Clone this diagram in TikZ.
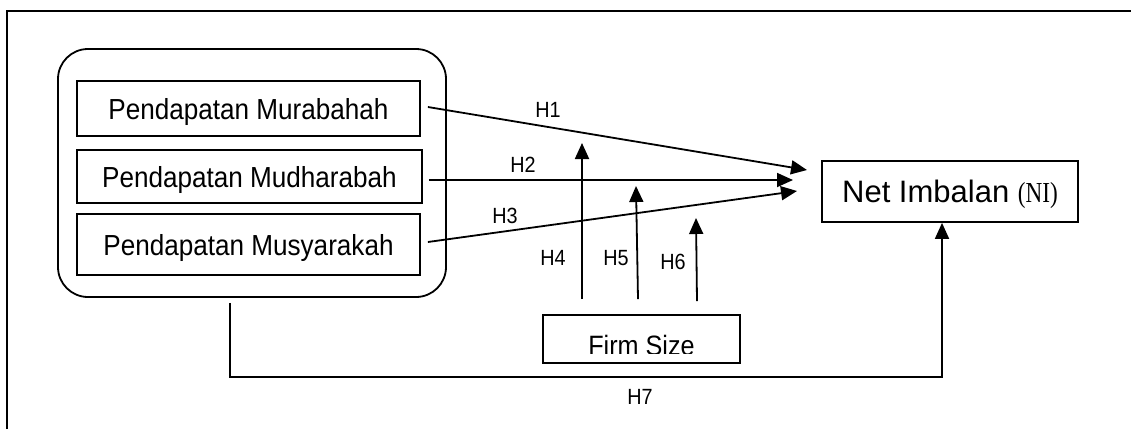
\documentclass[tikz,border=0pt]{standalone}
\usepackage{fontspec}
\setmainfont{Liberation Sans}[FakeStretch=0.9]
\newfontfamily\netfont{Liberation Sans}
\newfontfamily\serifni{Liberation Serif}[FakeStretch=0.8]
\usetikzlibrary{arrows.meta}
\begin{document}
\begin{tikzpicture}[x=1pt,y=-1pt,
  ln/.style={line width=1.8pt},
  arr/.style={ln,-{Triangle[length=16pt,width=14pt]}},
  pbox/.style={draw,line width=1.8pt,inner sep=0pt,text depth=0pt,
    font=\fontsize{29}{34}\selectfont},
  hlab/.style={inner sep=0pt,font=\fontsize{22}{26}\selectfont}]
\useasboundingbox (0,0) rectangle (1131,429);
% outer frame
\draw[ln] (7,429) -- (7,11) -- (1131,11);
% group
\node[draw,line width=1.8pt,rounded corners=30pt,minimum width=388pt,minimum height=248pt,inner sep=0pt] (grp) at (252,173) {};
\node[pbox,minimum width=343pt,minimum height=55pt] (b1) at (248.5,108.5) {Pendapatan Murabahah};
\node[pbox,minimum width=345pt,minimum height=53pt] (b2) at (249.5,176.5) {Pendapatan Mudharabah};
\node[pbox,minimum width=343pt,minimum height=61pt] (b3) at (248.5,244.5) {Pendapatan Musyarakah};
% Net Imbalan
\node[pbox,minimum width=256pt,minimum height=61pt] (net) at (950,191.5)
  {\netfont\fontsize{31}{36}\selectfont Net Imbalan {\serifni\fontsize{29}{34}\selectfont(NI)}};
% Firm size (text clipped)
\node[draw,line width=1.8pt,minimum width=197pt,minimum height=48pt,inner sep=0pt,
  path picture={
    \clip (path picture bounding box.north west) rectangle ([yshift=10pt]path picture bounding box.south east);
    \node[anchor=base,inner sep=0pt,font=\fontsize{28}{33}\selectfont] (fst) at ([yshift=-16pt]path picture bounding box.center) {Firm Size};
  }] (firm) at (641.5,339) {};
% free ends
\coordinate (t1) at (807,170);
\coordinate (t2) at (793,180);
\coordinate (t3) at (797,191);
\coordinate (t4) at (582,143);
\coordinate (t5) at (636,186);
\coordinate (t6) at (696,218);
\coordinate (c7) at (942,377);
% H1-H3
\draw[arr] ([xshift=7pt,yshift=1.5pt]b1.east) -- (t1);
\draw[arr] ([xshift=6pt,yshift=-3.5pt]b2.east) -- (t2);
\draw[arr] ([xshift=7pt,yshift=2.5pt]b3.east) -- (t3);
% H4-H6
\draw[arr] ([xshift=-59.5pt,yshift=15pt]firm.north) -- (t4);
\draw[arr] ([xshift=-3.5pt,yshift=15pt]firm.north) -- (t5);
\draw[arr] ([xshift=55.5pt,yshift=13pt]firm.north) -- (t6);
% H7
\draw[arr] ([xshift=-22pt,yshift=-5pt]grp.south) |- (c7) -- (c7 |- net.south);
% labels
\node[hlab] (h1) at (548,110) {H1};
\node[hlab] (h2) at (523,165) {H2};
\node[hlab] (h3) at (505,216) {H3};
\node[hlab] (h4) at (553,258) {H4};
\node[hlab] (h5) at (616,258) {H5};
\node[hlab] (h6) at (673,262) {H6};
\node[hlab] (h7) at (640,397) {H7};
\end{tikzpicture}
\end{document}
